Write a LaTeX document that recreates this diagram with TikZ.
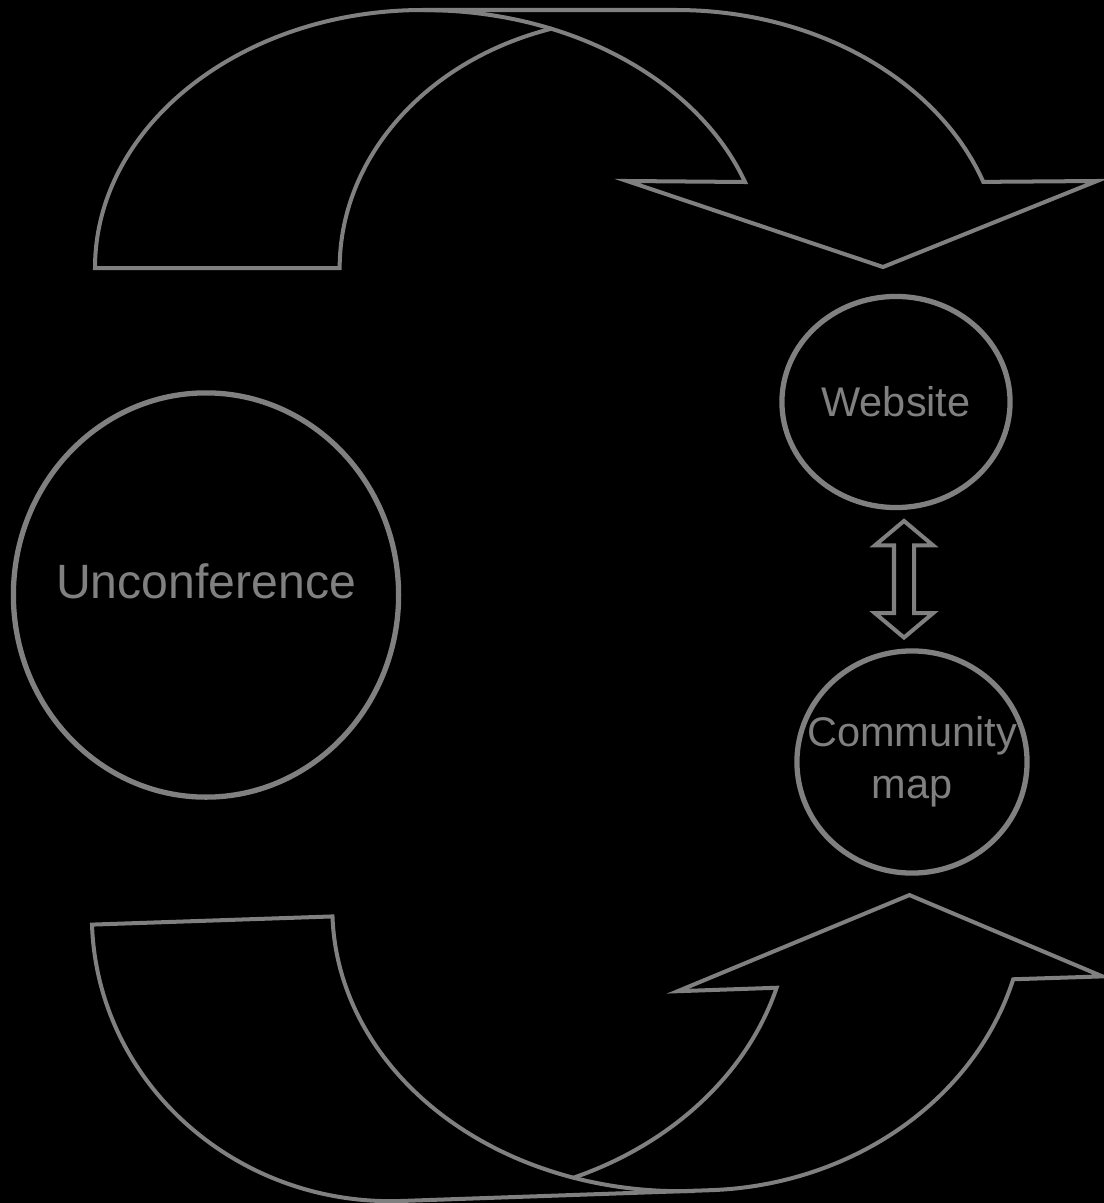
\documentclass[tikz,border=0pt]{standalone}
\usepackage{fontspec}
\setmainfont{Liberation Sans}
\usetikzlibrary{shapes.geometric,shapes.arrows,calc}
\definecolor{linegray}{HTML}{808080}
\newcommand{\ctext}[1]{\makebox[0pt]{#1}}

\begin{document}
\begin{tikzpicture}[x=0.01cm,y=-0.01cm,
   band/.style={draw=linegray,line width=1.14pt},
   spot/.style={ellipse,draw=linegray,line width=1.5pt,inner sep=0pt,text=linegray,align=center},
   swapper/.style={double arrow,draw=linegray,line width=1.14pt,rotate=90,inner xsep=0pt,
      inner ysep=0.08cm,minimum height=1.165cm,double arrow head extend=0.19cm,
      double arrow head indent=0pt,double arrow tip angle=100}]
   \fill[black] (0,0) rectangle (1104,1203);
   \useasboundingbox (0,0) rectangle (1104,1203);

   \node[spot,minimum width=3.85cm,minimum height=4.04cm,text height=0.35cm,text depth=0.29cm,
      font=\fontsize{13.7}{16}\selectfont] (unconf) at (206,595) {\ctext{Unconference}};
   \node[spot,minimum width=2.28cm,minimum height=2.11cm,
      font=\fontsize{11.8}{14.7}\selectfont] (web) at (896,402) {\ctext{Website}};
   \node[spot,minimum width=2.30cm,minimum height=2.22cm,
      font=\fontsize{11.8}{14.7}\selectfont] (map) at (912,762) {\ctext{Community}\\\ctext{map}};
   \node[swapper] (swap) at ($(web.south)!0.5!(map.north)$) {};

   \draw[band] (95,268) arc[start angle=180,end angle=270,x radius=328,y radius=258]
      -- (676,10) arc[start angle=270,end angle=340.5,x radius=326,y radius=258]
      -- (1097,181) -- (883,267) -- (627,181) -- (745,182)
      arc[start angle=340.5,end angle=291.9,x radius=340,y radius=258] coordinate (topfold)
      arc[start angle=253.3,end angle=180,x radius=297,y radius=250] -- cycle;
   \draw[band] (topfold) arc[start angle=291.9,end angle=270,x radius=340,y radius=258];

   \begin{scope}[rotate around={2:(570,1060)}]
   \draw[band] (97,908) arc[start angle=180,end angle=90,x radius=300,y radius=287]
      -- (706,1195) arc[start angle=90,end angle=17.6,x radius=325,y radius=287]
      -- (1105,995) -- (915,907) -- (680,995) -- (779,995)
      arc[start angle=17.6,end angle=69.9,x radius=344,y radius=287] coordinate (lowfold)
      arc[start angle=110.1,end angle=180,x radius=353,y radius=287] -- cycle;
   \draw[band] (lowfold) arc[start angle=110.1,end angle=90,x radius=353,y radius=287];
   \end{scope}
\end{tikzpicture}
\end{document}
